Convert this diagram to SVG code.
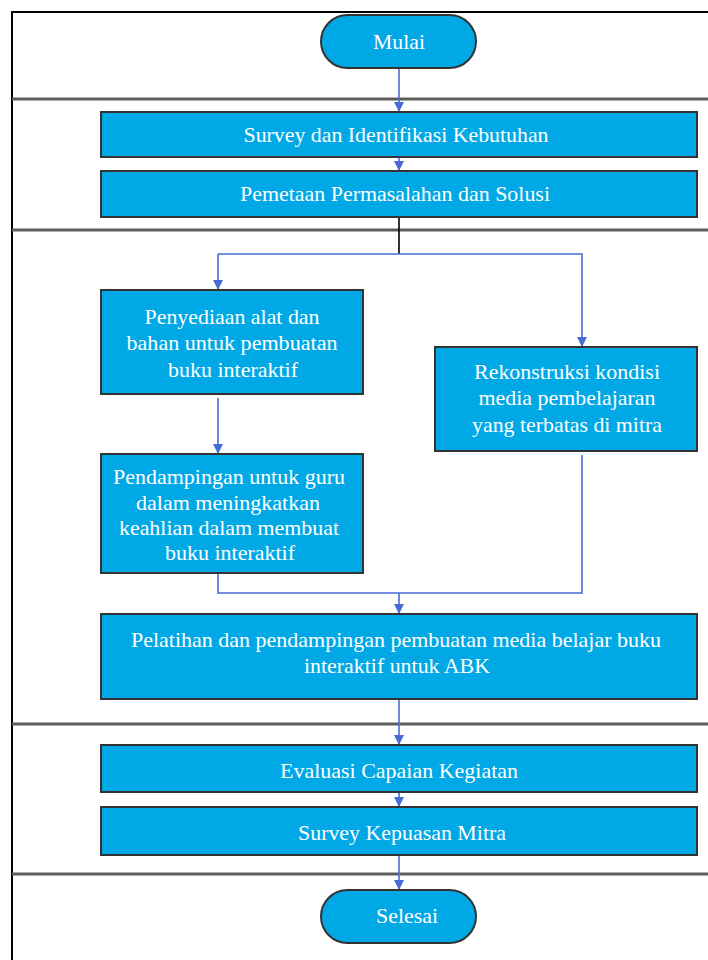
<svg xmlns="http://www.w3.org/2000/svg" width="708" height="960" viewBox="0 0 708 960">
<style>
.box{fill:#00a9e6;stroke:#333;stroke-width:2}
.t{font-family:"Liberation Serif","Times New Roman",serif;font-size:21px;fill:#fff;text-anchor:middle}
.div{stroke:#5c5c5c;stroke-width:3;fill:none}
.c{stroke:#4a6bd6;stroke-width:1.6;fill:none}
.k{stroke:#000;stroke-width:1.6;fill:none}
</style>
<defs>
<marker id="ah" markerUnits="userSpaceOnUse" markerWidth="10" markerHeight="10" refX="9" refY="5" orient="auto">
<path d="M0,0 L10,5 L0,10 Z" fill="#4a6bd6"/>
</marker>
</defs>
<rect x="0" y="0" width="708" height="960" fill="#fff"/>
<path d="M12,970 L12,12 L720,12" fill="none" stroke="#000" stroke-width="2"/>
<g id="dividers">
<line class="div" x1="12" y1="99" x2="708" y2="99"/>
<line class="div" x1="12" y1="230" x2="708" y2="230"/>
<line class="div" x1="12" y1="724" x2="708" y2="724"/>
<line class="div" x1="12" y1="874" x2="708" y2="874"/>
</g>
<g id="connectors">
<line class="c" x1="399" y1="68" x2="399" y2="111" marker-end="url(#ah)"/>
<line class="c" x1="399" y1="157" x2="399" y2="170" marker-end="url(#ah)"/>
<line class="k" x1="399" y1="217" x2="399" y2="254"/>
<polyline class="c" points="218,254 582,254 582,346" marker-end="url(#ah)"/>
<line class="c" x1="218" y1="254" x2="218" y2="289" marker-end="url(#ah)"/>
<line class="c" x1="218" y1="398" x2="218" y2="453" marker-end="url(#ah)"/>
<polyline class="c" points="218,573 218,593 582,593 582,455"/>
<line class="c" x1="399" y1="593" x2="399" y2="613" marker-end="url(#ah)"/>
<line class="c" x1="399" y1="699" x2="399" y2="744" marker-end="url(#ah)"/>
<line class="c" x1="399" y1="793" x2="399" y2="806" marker-end="url(#ah)"/>
<line class="c" x1="399" y1="856" x2="399" y2="889" marker-end="url(#ah)"/>
</g>
<g id="mulai">
<rect class="box" x="321" y="15" width="155" height="53" rx="26.5"/>
<text class="t" x="399" y="49" textLength="52" lengthAdjust="spacingAndGlyphs">Mulai</text>
</g>
<g id="survey">
<rect class="box" x="101" y="112" width="596" height="45"/>
<text class="t" x="396" y="142" textLength="305" lengthAdjust="spacingAndGlyphs">Survey dan Identifikasi Kebutuhan</text>
</g>
<g id="pemetaan">
<rect class="box" x="101" y="171" width="596" height="46"/>
<text class="t" x="395" y="201" textLength="310" lengthAdjust="spacingAndGlyphs">Pemetaan Permasalahan dan Solusi</text>
</g>
<g id="penyediaan">
<rect class="box" x="101" y="290" width="262" height="104"/>
<text class="t" x="232" y="324" textLength="175" lengthAdjust="spacingAndGlyphs">Penyediaan alat dan</text>
<text class="t" x="232" y="350" textLength="211" lengthAdjust="spacingAndGlyphs">bahan untuk pembuatan</text>
<text class="t" x="233" y="377" textLength="130" lengthAdjust="spacingAndGlyphs">buku interaktif</text>
</g>
<g id="rekonstruksi">
<rect class="box" x="435" y="347" width="262" height="104"/>
<text class="t" x="567" y="379" textLength="186" lengthAdjust="spacingAndGlyphs">Rekonstruksi kondisi</text>
<text class="t" x="567" y="405" textLength="177" lengthAdjust="spacingAndGlyphs">media pembelajaran</text>
<text class="t" x="567" y="432" textLength="190" lengthAdjust="spacingAndGlyphs">yang terbatas di mitra</text>
</g>
<g id="pendampingan">
<rect class="box" x="101" y="454" width="262" height="119"/>
<text class="t" x="229" y="484" textLength="232" lengthAdjust="spacingAndGlyphs">Pendampingan untuk guru</text>
<text class="t" x="228" y="510" textLength="184" lengthAdjust="spacingAndGlyphs">dalam meningkatkan</text>
<text class="t" x="229" y="535" textLength="220" lengthAdjust="spacingAndGlyphs">keahlian dalam membuat</text>
<text class="t" x="230" y="560" textLength="130" lengthAdjust="spacingAndGlyphs">buku interaktif</text>
</g>
<g id="pelatihan">
<rect class="box" x="101" y="614" width="596" height="85"/>
<text class="t" x="396" y="647" textLength="530" lengthAdjust="spacingAndGlyphs">Pelatihan dan pendampingan pembuatan media belajar buku</text>
<text class="t" x="397" y="673" textLength="186" lengthAdjust="spacingAndGlyphs">interaktif untuk ABK</text>
</g>
<g id="evaluasi">
<rect class="box" x="101" y="745" width="596" height="47"/>
<text class="t" x="399" y="778" textLength="238" lengthAdjust="spacingAndGlyphs">Evaluasi Capaian Kegiatan</text>
</g>
<g id="kepuasan">
<rect class="box" x="101" y="807" width="596" height="48"/>
<text class="t" x="402" y="840" textLength="208" lengthAdjust="spacingAndGlyphs">Survey Kepuasan Mitra</text>
</g>
<g id="selesai">
<rect class="box" x="321" y="890" width="155" height="53" rx="26.5"/>
<text class="t" x="407" y="923" textLength="62" lengthAdjust="spacingAndGlyphs">Selesai</text>
</g>
</svg>
